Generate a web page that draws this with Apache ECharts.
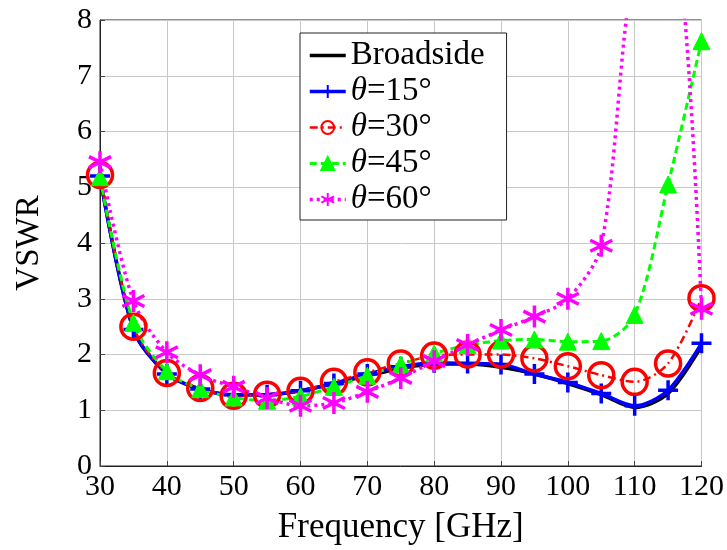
<!DOCTYPE html>
<html>
<head>
<meta charset="utf-8">
<script src="https://cdn.jsdelivr.net/npm/echarts@6/dist/echarts.min.js"></script>
<style>
  html, body { margin: 0; padding: 0; background: #fff; }
  #chart { width: 727px; height: 550px; }
</style>
</head>
<body>
<div id="chart"></div>
<script>
// Frequency sweep (GHz)
const freq = [30, 35, 40, 45, 50, 55, 60, 65, 70, 75, 80, 85, 90, 95, 100, 105, 110, 115, 120];

// VSWR for each scan angle
const broadside = [5.20, 2.45, 1.65, 1.38, 1.28, 1.28, 1.35, 1.48, 1.62, 1.75, 1.83, 1.83, 1.77, 1.65, 1.48, 1.28, 1.05, 1.30, 2.15];
const theta15   = [5.20, 2.45, 1.65, 1.38, 1.28, 1.28, 1.35, 1.48, 1.65, 1.78, 1.85, 1.84, 1.82, 1.65, 1.50, 1.30, 1.08, 1.36, 2.20];
const theta30   = [5.22, 2.50, 1.67, 1.40, 1.26, 1.28, 1.35, 1.51, 1.68, 1.84, 1.98, 2.00, 2.00, 1.93, 1.79, 1.63, 1.51, 1.84, 3.01];
const theta45   = [5.18, 2.57, 1.70, 1.38, 1.23, 1.17, 1.25, 1.42, 1.62, 1.82, 2.02, 2.17, 2.25, 2.27, 2.23, 2.24, 2.71, 5.05, 7.62];
const theta60   = [5.45, 2.96, 2.04, 1.63, 1.42, 1.22, 1.08, 1.13, 1.33, 1.58, 1.88, 2.17, 2.44, 2.68, 3.00, 3.95, 9.0, 10.0, 2.82];

const xTicks = [30, 40, 50, 60, 70, 80, 90, 100, 110, 120];
const yTicks = [0, 1, 2, 3, 4, 5, 6, 7, 8];

const FONT = '"Liberation Serif", "DejaVu Serif", serif';

const pair = ys => freq.map((f, i) => [f, ys[i]]);

const PLUS = 'path://M0 10 L20 10 M10 0 L10 20';
const STAR = 'path://M10 0 L10 20 M1.34 5 L18.66 15 M1.34 15 L18.66 5';
const RING = 'path://M20 10 A10 10 0 1 1 0 10 A10 10 0 1 1 20 10 Z';

const chart = echarts.init(document.getElementById('chart'), null, { renderer: 'canvas' });

chart.setOption({
  animation: false,
  backgroundColor: '#fff',
  grid: {
    left: 100, right: 24, top: 20, bottom: 78,
    show: true, borderColor: '#222', borderWidth: 1
  },
  xAxis: {
    type: 'value',
    min: xTicks[0], max: xTicks[xTicks.length - 1], interval: 10,
    name: 'Frequency [GHz]',
    nameLocation: 'middle', nameGap: 44,
    nameTextStyle: { fontFamily: FONT, fontSize: 35, color: '#000' },
    axisLine: { show: true, lineStyle: { color: '#222', width: 1 } },
    axisTick: { show: true, inside: true, length: 5, lineStyle: { color: '#444' } },
    axisLabel: { fontFamily: FONT, fontSize: 30, color: '#000', margin: 6 },
    splitLine: { show: true, lineStyle: { color: '#c8c8c8', width: 1 } }
  },
  yAxis: {
    type: 'value',
    min: yTicks[0], max: yTicks[yTicks.length - 1], interval: 1,
    name: 'VSWR',
    nameLocation: 'middle', nameGap: 54,
    nameTextStyle: { fontFamily: FONT, fontSize: 33, color: '#000' },
    axisLine: { show: true, lineStyle: { color: '#222', width: 1 } },
    axisTick: { show: true, inside: true, length: 5, lineStyle: { color: '#444' } },
    axisLabel: { fontFamily: FONT, fontSize: 30, color: '#000', margin: 8 },
    splitLine: { show: true, lineStyle: { color: '#c8c8c8', width: 1 } }
  },
  legend: {
    orient: 'vertical',
    left: 300, top: 33,
    backgroundColor: '#fff',
    borderColor: '#222', borderWidth: 1,
    padding: [6, 22, 4, 8],
    itemWidth: 36, itemHeight: 16, itemGap: 3,
    lineStyle: { width: 'inherit', type: 'inherit' },
    textStyle: {
      fontFamily: FONT, fontSize: 33, color: '#000', lineHeight: 30,
      rich: { i: { fontFamily: FONT, fontSize: 33, fontStyle: 'italic', color: '#000', lineHeight: 30 } }
    },
    formatter: n => n.charAt(0) === 'θ' ? '{i|θ}' + n.slice(1) : n,
    data: [
      { name: 'Broadside', itemStyle: { opacity: 0 } },
      'θ=15°', 'θ=30°', 'θ=45°', 'θ=60°'
    ]
  },
  series: [
    {
      name: 'Broadside', type: 'line', smooth: 0.3,
      data: pair(broadside),
      showSymbol: false, symbol: 'none',
      itemStyle: { color: '#000' },
      lineStyle: { color: '#000', width: 3.5 }
    },
    {
      name: 'θ=15°', type: 'line', smooth: 0.3,
      data: pair(theta15),
      symbol: PLUS, symbolSize: 20,
      itemStyle: { color: '#0000ff', borderColor: '#0000ff', borderWidth: 3.5 },
      lineStyle: { color: '#0000ff', width: 3.5 }
    },
    {
      name: 'θ=30°', type: 'line', smooth: 0.3,
      data: pair(theta30),
      symbol: RING, symbolSize: 25,
      itemStyle: { color: 'rgba(255,0,0,0)', borderColor: '#ff0000', borderWidth: 3.5 },
      lineStyle: { color: '#ff0000', width: 2.5, type: [8, 4, 2, 4] }
    },
    {
      name: 'θ=45°', type: 'line', smooth: 0.3,
      data: pair(theta45),
      symbol: 'triangle', symbolSize: 17,
      itemStyle: { color: '#00ff00', borderColor: '#00ff00', borderWidth: 1 },
      lineStyle: { color: '#00ff00', width: 3, type: [7, 4] }
    },
    {
      name: 'θ=60°', type: 'line', smooth: 0.3,
      data: pair(theta60),
      symbol: STAR, symbolSize: 22,
      itemStyle: { color: '#ff00ff', borderColor: '#ff00ff', borderWidth: 3.5 },
      lineStyle: { color: '#ff00ff', width: 3.5, type: [3, 4] }
    }
  ]
});
</script>
</body>
</html>
